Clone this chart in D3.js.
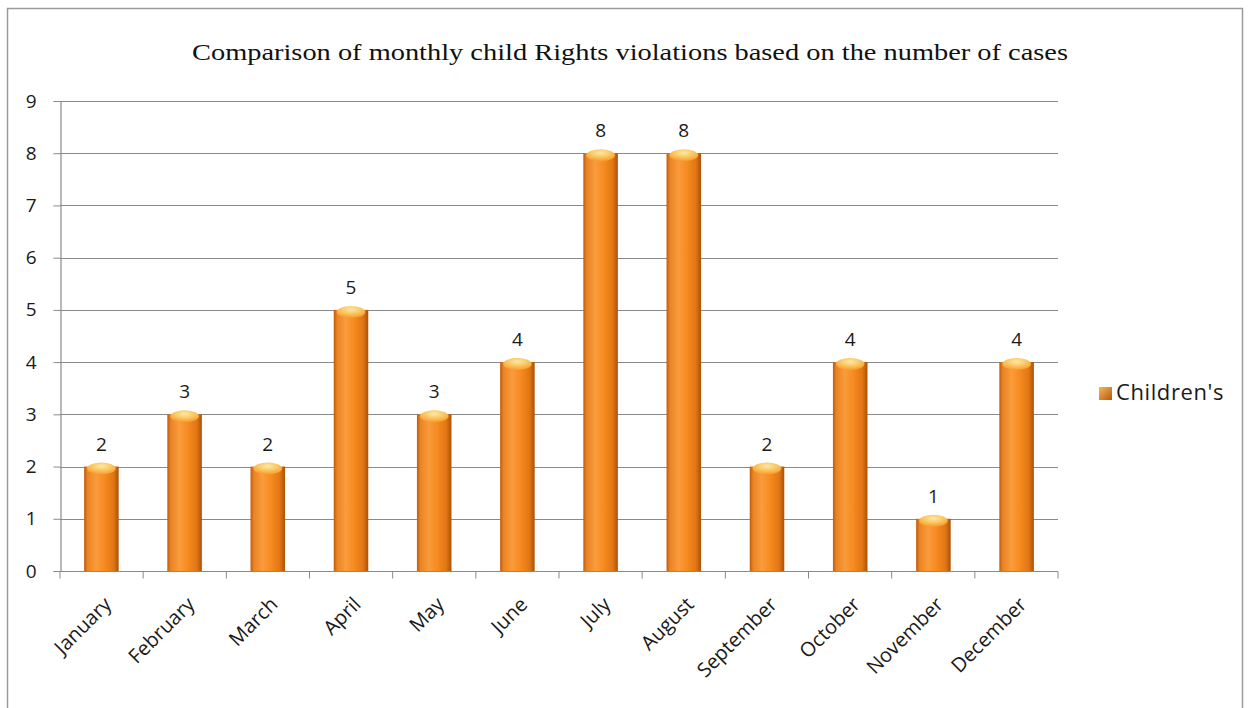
<!DOCTYPE html>
<html><head><meta charset="utf-8">
<script src="https://cdn.jsdelivr.net/npm/d3@7"></script>
<style>body{margin:0;background:#fff}svg{display:block}</style>
</head><body><svg id="c" width="1249" height="708"></svg>
<script>
const months = ["January","February","March","April","May","June","July","August","September","October","November","December"];
const cases = [2,3,2,5,3,4,8,8,2,4,1,4];
const yTicks = [0,1,2,3,4,5,6,7,8,9];
const seriesName = "Children's";
const titleText = "Comparison of monthly child Rights violations based on the number of cases";

(function(){
const FONT = "'Open Sans', Lato, sans-serif";
const svg = d3.select("#c");
svg.append("rect").attr("x",7.5).attr("y",8.5).attr("width",1235).attr("height",710).attr("fill","#fff").attr("stroke","#9a9a9a").attr("stroke-width",1.5);

const defs = svg.append("defs");
const g1 = defs.append("linearGradient").attr("id","barG").attr("x1","0").attr("x2","1").attr("y1","0").attr("y2","0");
[["0%","#c25a0a"],["10%","#ea8424"],["35%","#fa9b3c"],["60%","#f68a1f"],["85%","#e07615"],["100%","#ad5008"]].forEach(s=>g1.append("stop").attr("offset",s[0]).attr("stop-color",s[1]));
const g2 = defs.append("radialGradient").attr("id","capG").attr("cx","0.5").attr("cy","0.3").attr("r","0.7");
[["0%","#fde9a6"],["50%","#fbc660"],["100%","#f59a2c"]].forEach(s=>g2.append("stop").attr("offset",s[0]).attr("stop-color",s[1]));
const g3 = defs.append("linearGradient").attr("id","legG").attr("x1","0").attr("x2","1").attr("y1","0").attr("y2","1");
[["0%","#f7b55a"],["100%","#b8580a"]].forEach(s=>g3.append("stop").attr("offset",s[0]).attr("stop-color",s[1]));

const pL = 60, pR = 1058, pT = 101, pB = 571;
const x = d3.scaleBand().domain(months).range([pL,pR]).paddingInner(0.585).paddingOuter(0.29);
const y = d3.scaleLinear().domain([0,9]).range([pB,pT]);

svg.append("g").selectAll("line").data(yTicks.slice(1)).join("line")
  .attr("x1",pL).attr("x2",pR).attr("y1",d=>Math.round(y(d))+0.5).attr("y2",d=>Math.round(y(d))+0.5)
  .attr("stroke","#8a8a8a").attr("stroke-width",1.2);

const ya = svg.append("g").attr("transform",`translate(${pL+0.5},0)`)
  .call(d3.axisLeft(y).tickValues(yTicks).tickSize(7).tickPadding(17).tickFormat(d3.format("d")));
ya.select(".domain").attr("stroke","#8a8a8a").attr("stroke-width",1.2);
ya.selectAll(".tick line").attr("stroke","#8a8a8a");
ya.selectAll("text").attr("font-family",FONT).attr("font-size",19).attr("fill","#1a1a1a");

const xb = d3.scaleBand().domain(months).range([pL,pR]);
const xa = svg.append("g").attr("transform",`translate(0,${pB+0.5})`);
xa.append("line").attr("x1",pL).attr("x2",pR).attr("stroke","#8a8a8a").attr("stroke-width",1.2);
xa.selectAll("line.t").data(d3.range(13)).join("line").attr("class","t")
  .attr("x1",i=>pL+i*xb.step()).attr("x2",i=>pL+i*xb.step()).attr("y1",0).attr("y2",7).attr("stroke","#8a8a8a");
xa.selectAll("text").data(months).join("text")
  .attr("transform",d=>`translate(${x(d)+x.bandwidth()/2+1},${24}) rotate(-45)`)
  .attr("dy","0.72em")
  .attr("text-anchor","end").attr("font-family",FONT).attr("font-size",20).attr("fill","#1a1a1a")
  .text(d=>d);

const bars = svg.append("g").selectAll("g").data(months.map((m,i)=>({m,v:cases[i]}))).join("g");
bars.append("rect").attr("x",d=>x(d.m)).attr("y",d=>y(d.v)).attr("width",x.bandwidth()).attr("height",d=>pB-y(d.v))
  .attr("fill","url(#barG)");
bars.append("ellipse").attr("cx",d=>x(d.m)+x.bandwidth()/2).attr("cy",d=>y(d.v)+2).attr("rx",x.bandwidth()/2-3).attr("ry",6)
  .attr("fill","url(#capG)");
bars.append("text").attr("x",d=>x(d.m)+x.bandwidth()/2).attr("y",d=>y(d.v)-16)
  .attr("text-anchor","middle").attr("font-family",FONT).attr("font-size",19).attr("fill","#1a1a1a")
  .text(d=>d.v);

svg.append("text").attr("x",630).attr("y",60).attr("text-anchor","middle")
  .attr("font-family","'Liberation Serif', 'DejaVu Serif', serif").attr("font-size",23).attr("fill","#111")
  .attr("textLength",876).attr("lengthAdjust","spacingAndGlyphs").text(titleText);

svg.append("rect").attr("x",1099).attr("y",387).attr("width",13).attr("height",13).attr("fill","url(#legG)");
svg.append("text").attr("x",1116).attr("y",400).attr("font-family",FONT).attr("font-size",22).attr("letter-spacing",0.6).attr("fill","#1a1a1a").text(seriesName);
})();
</script></body></html>
